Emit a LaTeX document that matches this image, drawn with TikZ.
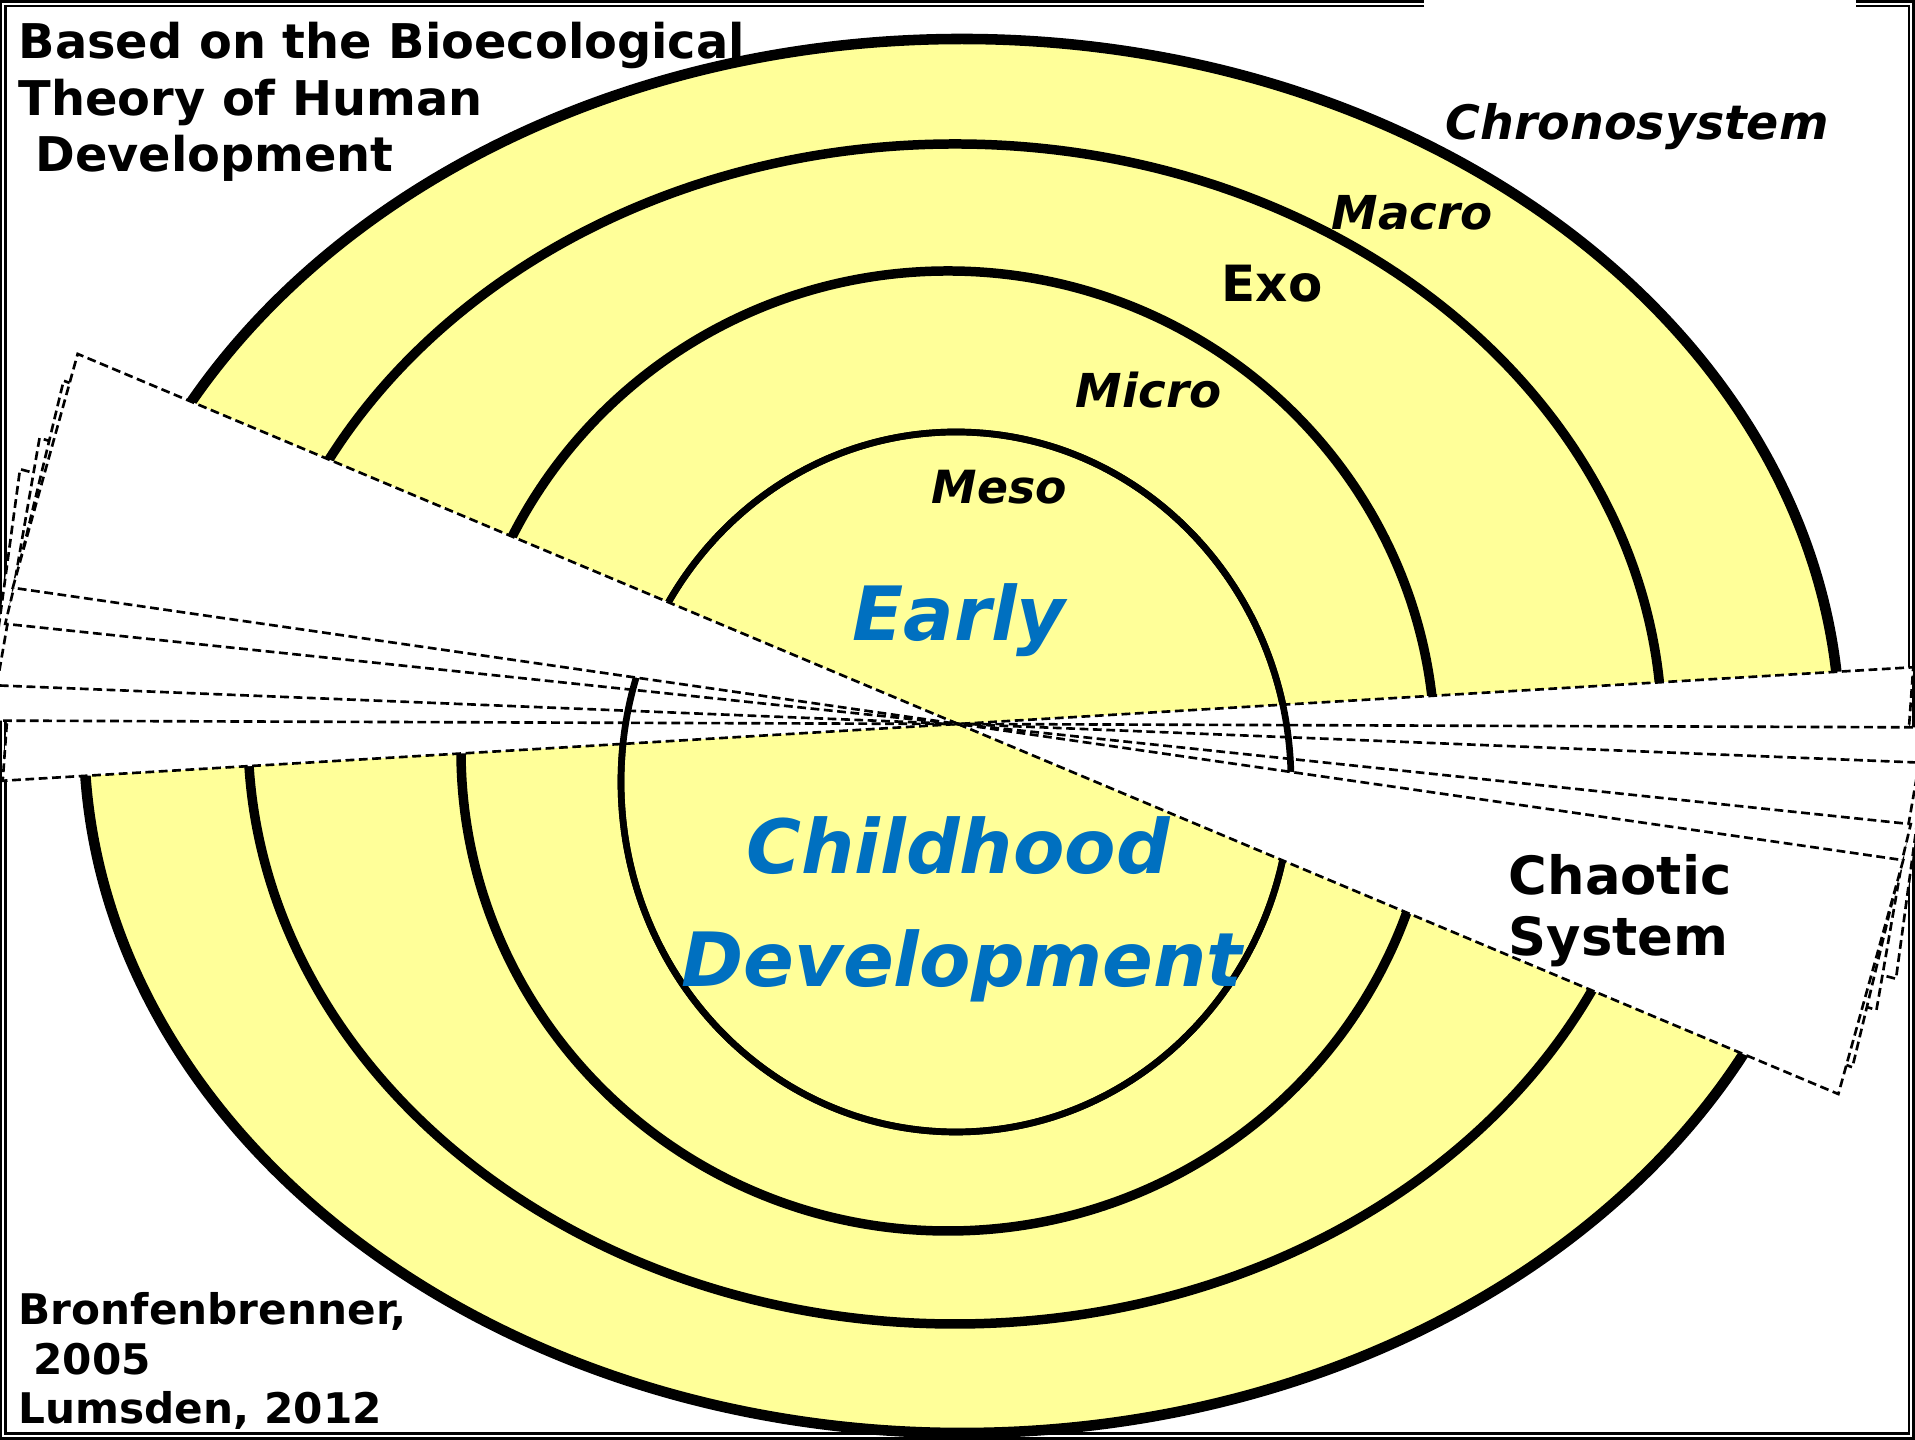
\documentclass[tikz,border=0pt]{standalone}
\usepackage{fontspec}
\setmainfont{DejaVu Sans}
\definecolor{ringyellow}{HTML}{FFFF99}
\definecolor{earlyblue}{HTML}{0070C0}
\newcommand{\fanwedge}[3]{\draw[wedge] (ctr) -- +(#1:#3) -- +(#2:#3) -- cycle (ctr) -- +(#1+180:#3) -- +(#2+180:#3) -- cycle;}
\begin{document}
\begin{tikzpicture}[x=0.01cm,y=0.01cm,
    ring/.style={fill=ringyellow,draw=black,line width=2.7pt},
    wedge/.style={fill=white,draw=black,line width=0.75pt,dash pattern=on 2.5pt off 1.3pt},
    lbl/.style={inner sep=0,anchor=base west,font=\bfseries\fontsize{13}{16}\selectfont},
    sys/.style={lbl,font=\bfseries\itshape\fontsize{13.3}{16}\selectfont},
    big/.style={inner sep=0,anchor=base,text=earlyblue,font=\bfseries\itshape\fontsize{21.3}{26}\selectfont}]
  \useasboundingbox (0,0) rectangle (1915,1440);
  \draw[double,line width=0.6pt,double distance=0.8pt] (1424,1436) -- (3,1436) -- (3,4) -- (1911,4) -- (1911,1436) -- (1856,1436);
  \draw[ring,line width=3pt] (962,704) ellipse [x radius=878,y radius=697];
  \draw[ring] (955,706) ellipse [x radius=707,y radius=590];
  \draw[ring] (948,689) ellipse [x radius=487,y radius=480];
  \draw[ring,line width=1.9pt] (956,658) ellipse [x radius=335,y radius=350];
  \coordinate (ctr) at (958,716);
  \fanwedge{168.4}{183.4}{957}
  \fanwedge{164.8}{179.8}{972}
  \fanwedge{162.7}{177.7}{962}
  \fanwedge{159}{174}{958}
  \draw[line width=1.9pt] (956,658) ellipse [x radius=335,y radius=350];
  \fanwedge{157.2}{171.8}{955}
  \node[lbl,align=left,font=\bfseries\fontsize{13.6}{16.2}\selectfont] (title) at (18,1268) {Based on the Bioecological\\Theory of Human\\\hspace*{0.35em}Development};
  \node[sys,font=\bfseries\itshape\fontsize{13.5}{16}\selectfont] (chrono) at (1445,1300) {Chronosystem};
  \node[sys] (macro) at (1331,1210) {Macro};
  \node[lbl,font=\bfseries\fontsize{14.2}{17}\selectfont] (exo) at (1221,1138) {Exo};
  \node[sys] (micro) at (1075,1032) {Micro};
  \node[sys,font=\bfseries\itshape\fontsize{13}{16}\selectfont] (meso) at (931,936) {Meso};
  \node[big] (early) at (959,799) {Early};
  \node[big] (child) at (958,566) {Childhood};
  \node[big] (devel) at (962,453) {Development};
  \node[lbl,align=left,font=\bfseries\fontsize{15}{17.4}\selectfont] (chaos) at (1508,484) {Chaotic\\System};
  \node[lbl,align=left,font=\bfseries\fontsize{12}{14.2}\selectfont] (cite) at (18,16) {Bronfenbrenner,\\\hspace*{0.35em}2005\\Lumsden, 2012};
\end{tikzpicture}
\end{document}
